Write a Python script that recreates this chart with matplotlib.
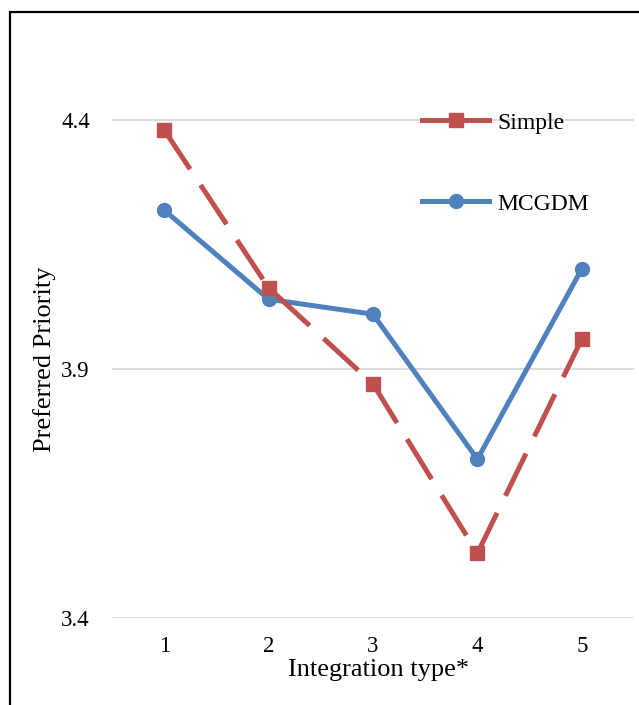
import matplotlib
matplotlib.use('Agg')
import matplotlib.pyplot as plt
from matplotlib.lines import Line2D
from matplotlib.patches import Rectangle

# Data
types = [1, 2, 3, 4, 5]
simple = [4.38, 4.063, 3.87, 3.53, 3.96]
mcgdm = [4.219, 4.04, 4.01, 3.719, 4.101]
yticks = [3.4, 3.9, 4.4]

red = '#C0504D'
blue = '#4F81BD'

plt.rcParams['font.family'] = ['Liberation Serif', 'DejaVu Serif']

fig = plt.figure(figsize=(6.39, 7.05), dpi=100)
W, H = 639, 705
ax = fig.add_axes([112 / W, 1 - 618 / H, 522 / W, 597.6 / H])

# Lines
ax.plot(types, mcgdm, color=blue, lw=3.6, marker='o', markersize=10,
        solid_capstyle='butt', zorder=3)
ax.plot(types, simple, color=red, lw=3.6, marker='s', markersize=10.5,
        linestyle=(0, (9.4, 3.8)), dash_capstyle='butt', zorder=4)

ax.set_xlim(0.5, 5.5)
ax.set_ylim(3.4, 4.6)
ax.set_xticks(types)
ax.set_yticks(yticks)
ax.set_yticklabels([f'{v:.1f}' for v in yticks])
ax.tick_params(axis='both', length=0, labelsize=16.5)
ax.tick_params(axis='y', pad=16)
ax.tick_params(axis='x', pad=13)
ax.grid(axis='y', color='#D9D9D9', lw=1.3)
ax.set_axisbelow(True)
for s in ax.spines.values():
    s.set_visible(False)

ax.set_xlabel('Integration type*', fontsize=19)
ax.set_ylabel('Preferred Priority', fontsize=19)
ax.xaxis.set_label_coords(0.511, -0.087)
ax.yaxis.set_label_coords(-0.13, 0.433)
ax.xaxis.label.set_va('center')
ax.yaxis.label.set_va('center')

# Legend (solid handles like the original)
handles = [
    Line2D([], [], color=red, lw=3.6, marker='s', markersize=10.5),
    Line2D([], [], color=blue, lw=3.6, marker='o', markersize=10),
]
fig.legend(handles, ['Simple', 'MCGDM'], loc='upper left',
           bbox_to_anchor=(422 / W, 1 - 112 / H), frameon=False,
           fontsize=17, handlelength=2.84, handletextpad=0.34,
           labelspacing=2.52, borderpad=0, borderaxespad=0)

# Outer border, cut off at right and bottom
fig.patches.append(Rectangle((10 / W, -0.2), 1.5, 1.2 - 12 / H,
                             transform=fig.transFigure, fill=False,
                             edgecolor='black', lw=1.6, clip_on=False))

fig.savefig('out.png', dpi=100)
